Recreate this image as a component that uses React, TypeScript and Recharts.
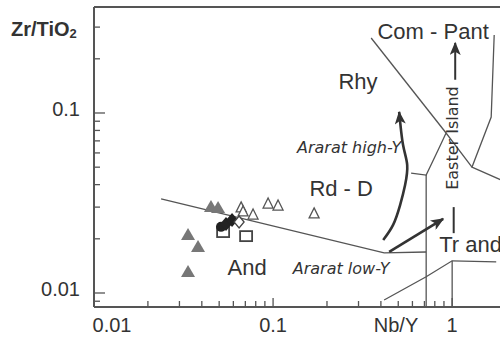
import React from "react";
import { ScatterChart, Scatter, XAxis, YAxis, ReferenceLine } from "recharts";

const X_MIN = 0.01;
const X_MAX = 1.85;
const Y_MIN = 0.00836;
const Y_MAX = 0.388;

const xTicks = [0.01, 0.02, 0.03, 0.04, 0.05, 0.06, 0.07, 0.08, 0.09, 0.1, 0.2, 0.3, 0.4, 0.5, 0.6, 0.7, 0.8, 0.9, 1];
const yTicks = [0.009, 0.01, 0.02, 0.03, 0.04, 0.05, 0.06, 0.07, 0.08, 0.09, 0.1, 0.2, 0.3];
const majorTicks = [0.01, 0.1, 1];

// field boundaries
const andUpper = [
  { x: 0.0237, y: 0.0333 },
  { x: 0.417, y: 0.0167 },
  { x: 0.716, y: 0.0169 },
];
const trachyteLeft = [
  { x: 0.59, y: 0.0464 },
  { x: 0.716, y: 0.0452 },
  { x: 0.835, y: 0.0623 },
  { x: 0.925, y: 0.0774 },
  { x: 1.29, y: 0.05 },
];
const vertical07 = [
  { x: 0.716, y: 0.0452 },
  { x: 0.716, y: 0.00836 },
];
const rhyUpper = [
  { x: 0.353, y: 0.261 },
  { x: 0.925, y: 0.0774 },
];
const pantRight = [
  { x: 1.717, y: 0.271 },
  { x: 1.652, y: 0.095 },
  { x: 1.29, y: 0.05 },
  { x: 1.878, y: 0.0424 },
];
const alkLower = [
  { x: 0.417, y: 0.00914 },
  { x: 0.716, y: 0.0123 },
  { x: 1.0, y: 0.0151 },
  { x: 1.762, y: 0.0149 },
];
const vertical1 = [
  { x: 1.0, y: 0.0151 },
  { x: 1.0, y: 0.00836 },
];

// trend arrows
const araratHigh = [
  { x: 0.412, y: 0.0197 },
  { x: 0.468, y: 0.0239 },
  { x: 0.512, y: 0.0308 },
  { x: 0.546, y: 0.0398 },
  { x: 0.561, y: 0.0514 },
  { x: 0.532, y: 0.0664 },
  { x: 0.506, y: 0.1013 },
];
const araratLow = [
  { x: 0.445, y: 0.0169 },
  { x: 0.891, y: 0.0258 },
];
const easterLow = [
  { x: 1.02, y: 0.0215 },
  { x: 1.02, y: 0.03 },
];
const easterHigh = [
  { x: 1.04, y: 0.153 },
  { x: 1.04, y: 0.245 },
];

// samples
const filledTriangles = [
  { x: 0.0335, y: 0.021 },
  { x: 0.0381, y: 0.018 },
  { x: 0.0335, y: 0.0131 },
  { x: 0.045, y: 0.03 },
  { x: 0.0493, y: 0.0297 },
];
const openTriangles = [
  { x: 0.0663, y: 0.0297 },
  { x: 0.068, y: 0.0282 },
  { x: 0.0773, y: 0.0271 },
  { x: 0.0938, y: 0.0312 },
  { x: 0.1066, y: 0.0304 },
  { x: 0.1695, y: 0.0275 },
];
const blackDiamonds = [
  { x: 0.0546, y: 0.0242 },
  { x: 0.059, y: 0.0254 },
];
const blackCircles = [{ x: 0.0512, y: 0.0233 }];
const openDiamonds = [{ x: 0.0646, y: 0.0248 }];
const openSquares = [
  { x: 0.0526, y: 0.0218 },
  { x: 0.0707, y: 0.0207 },
];

// labels
const fieldLabels = [
  { x: 0.783, y: 0.285, text: "Com - Pant", anchor: "middle" },
  { x: 0.298, y: 0.149, text: "Rhy", anchor: "middle" },
  { x: 0.24, y: 0.0383, text: "Rd - D", anchor: "middle" },
  { x: 0.0716, y: 0.01377, text: "And", anchor: "middle" },
  { x: 0.846, y: 0.0185, text: "Tr and", anchor: "start" },
];
const trendLabels = [
  { x: 0.266, y: 0.064, text: "Ararat high-Y" },
  { x: 0.24, y: 0.0136, text: "Ararat low-Y" },
];
const verticalLabels = [{ x: 1.0, y: 0.0726, text: "Easter Island" }];

const LINE = "#555";
const TEXT = "#333";
const SANS = "'Liberation Sans', Arial, sans-serif";

const noDot = () => <g />;

const filledTri = ({ cx, cy }: any) => (
  <polygon points={`${cx},${cy - 7} ${cx + 7},${cy + 5} ${cx - 7},${cy + 5}`} fill="#777" />
);
const openTri = ({ cx, cy }: any) => (
  <polygon
    points={`${cx},${cy - 6} ${cx + 5},${cy + 4} ${cx - 5},${cy + 4}`}
    fill="#fff"
    stroke="#555"
    strokeWidth={1.3}
  />
);
const blackDiamond = ({ cx, cy }: any) => (
  <polygon points={`${cx},${cy - 7} ${cx + 6},${cy} ${cx},${cy + 7} ${cx - 6},${cy}`} fill="#222" />
);
const blackCircle = ({ cx, cy }: any) => <circle cx={cx} cy={cy} r={5} fill="#222" />;
const openDiamond = ({ cx, cy }: any) => (
  <polygon
    points={`${cx},${cy - 6} ${cx + 5},${cy} ${cx},${cy + 6} ${cx - 5},${cy}`}
    fill="#fff"
    stroke="#444"
    strokeWidth={1.3}
  />
);
const openSquare = ({ cx, cy }: any) => (
  <rect x={cx - 6} y={cy - 5} width={12} height={10} fill="none" stroke="#444" strokeWidth={1.8} />
);

const fieldText = ({ cx, cy, payload }: any) => (
  <text
    x={cx}
    y={cy}
    textAnchor={payload.anchor}
    dominantBaseline="central"
    fontFamily={SANS}
    fontSize={22}
    fill={TEXT}
  >
    {payload.text}
  </text>
);
const trendText = ({ cx, cy, payload }: any) => (
  <text
    x={cx}
    y={cy}
    textAnchor="middle"
    dominantBaseline="central"
    fontFamily="'DejaVu Sans', Verdana, sans-serif"
    fontStyle="italic"
    fontSize={16}
    fill={TEXT}
  >
    {payload.text}
  </text>
);
const verticalText = ({ cx, cy, payload }: any) => (
  <text
    x={cx}
    y={cy}
    transform={`rotate(-90 ${cx} ${cy})`}
    textAnchor="middle"
    dominantBaseline="central"
    fontFamily="'DejaVu Sans', Verdana, sans-serif"
    fontSize={16}
    fill={TEXT}
  >
    {payload.text}
  </text>
);

const XTick = ({ x, y, payload }: any) => {
  const v = payload.value;
  const major = majorTicks.includes(v);
  return (
    <g>
      <line x1={x} x2={x} y1={y} y2={y - (major ? 9 : 6)} stroke={LINE} strokeWidth={1.3} />
      {major && (
        <text
          x={v === 0.01 ? x + 18 : x}
          y={y + 18}
          textAnchor="middle"
          dominantBaseline="central"
          fontFamily={SANS}
          fontSize={20}
          fill={TEXT}
        >
          {String(v)}
        </text>
      )}
    </g>
  );
};

const YTick = ({ x, y, payload }: any) => {
  const v = payload.value;
  const major = majorTicks.includes(v);
  return (
    <g>
      <line x1={x} x2={x + (major ? 11 : 6)} y1={y} y2={y} stroke={LINE} strokeWidth={1.3} />
      {major && (
        <text
          x={x - 14}
          y={y - 4}
          textAnchor="end"
          dominantBaseline="central"
          fontFamily={SANS}
          fontSize={20}
          fill={TEXT}
        >
          {String(v)}
        </text>
      )}
    </g>
  );
};

const lineSeries = [andUpper, trachyteLeft, vertical07, rhyUpper, pantRight, alkLower, vertical1];

export default function App() {
  return (
    <div style={{ position: "absolute", left: 0, top: 0, width: 500, height: 341, background: "#fff" }}>
      <svg width={0} height={0} style={{ position: "absolute" }}>
        <defs>
          <marker
            id="arrowHead"
            viewBox="0 0 12 10"
            refX={11}
            refY={5}
            markerWidth={14}
            markerHeight={11}
            markerUnits="userSpaceOnUse"
            orient="auto"
          >
            <path d="M0,0 L12,5 L0,10 L3,5 z" fill="#333" />
          </marker>
        </defs>
      </svg>
      <ScatterChart width={500} height={341} margin={{ top: 7, right: 0, bottom: 0, left: 0 }}>
        <XAxis
          type="number"
          dataKey="x"
          scale="log"
          domain={[X_MIN, X_MAX]}
          allowDataOverflow
          ticks={xTicks}
          interval={0}
          height={34}
          tickSize={0}
          tickMargin={0}
          tick={<XTick />}
          axisLine={{ stroke: LINE, strokeWidth: 2 }}
          tickLine={false}
          label={{
            content: ({ viewBox }: any) => (
              <text
                x={viewBox.x + 302}
                y={viewBox.y + 18}
                textAnchor="middle"
                dominantBaseline="central"
                fontFamily={SANS}
                fontSize={20}
                fill={TEXT}
              >
                Nb/Y
              </text>
            ),
          }}
        />
        <YAxis
          type="number"
          dataKey="y"
          scale="log"
          domain={[Y_MIN, Y_MAX]}
          allowDataOverflow
          ticks={yTicks}
          interval={0}
          width={94}
          tickSize={0}
          tickMargin={0}
          tick={<YTick />}
          axisLine={{ stroke: LINE, strokeWidth: 2 }}
          tickLine={false}
          label={{
            content: () => (
              <text x={11} y={29} dominantBaseline="central" fontFamily={SANS} fontSize={20} fontWeight="bold" fill={TEXT}>
                Zr/TiO
                <tspan fontSize={13} dy={4}>
                  2
                </tspan>
              </text>
            ),
          }}
        />
        <ReferenceLine y={Y_MAX} stroke={LINE} strokeWidth={2} />

        {lineSeries.map((d, i) => (
          <Scatter
            key={i}
            data={d}
            fill={LINE}
            line={{ stroke: LINE, strokeWidth: 1.3 }}
            shape={noDot}
            isAnimationActive={false}
          />
        ))}

        <Scatter
          data={araratHigh}
          fill="#333"
          line={{ stroke: "#333", strokeWidth: 2.6, markerEnd: "url(#arrowHead)" }}
          lineJointType="natural"
          shape={noDot}
          isAnimationActive={false}
        />
        <Scatter
          data={araratLow}
          fill="#333"
          line={{ stroke: "#333", strokeWidth: 2.6, markerEnd: "url(#arrowHead)" }}
          shape={noDot}
          isAnimationActive={false}
        />
        <Scatter
          data={easterLow}
          fill="#333"
          line={{ stroke: "#333", strokeWidth: 2 }}
          shape={noDot}
          isAnimationActive={false}
        />
        <Scatter
          data={easterHigh}
          fill="#333"
          line={{ stroke: "#333", strokeWidth: 2, markerEnd: "url(#arrowHead)" }}
          shape={noDot}
          isAnimationActive={false}
        />

        <Scatter data={filledTriangles} shape={filledTri} isAnimationActive={false} />
        <Scatter data={openTriangles} shape={openTri} isAnimationActive={false} />
        <Scatter data={openSquares} shape={openSquare} isAnimationActive={false} />
        <Scatter data={blackCircles} shape={blackCircle} isAnimationActive={false} />
        <Scatter data={blackDiamonds} shape={blackDiamond} isAnimationActive={false} />
        <Scatter data={openDiamonds} shape={openDiamond} isAnimationActive={false} />

        <Scatter data={fieldLabels} shape={fieldText} isAnimationActive={false} />
        <Scatter data={trendLabels} shape={trendText} isAnimationActive={false} />
        <Scatter data={verticalLabels} shape={verticalText} isAnimationActive={false} />
      </ScatterChart>
    </div>
  );
}
